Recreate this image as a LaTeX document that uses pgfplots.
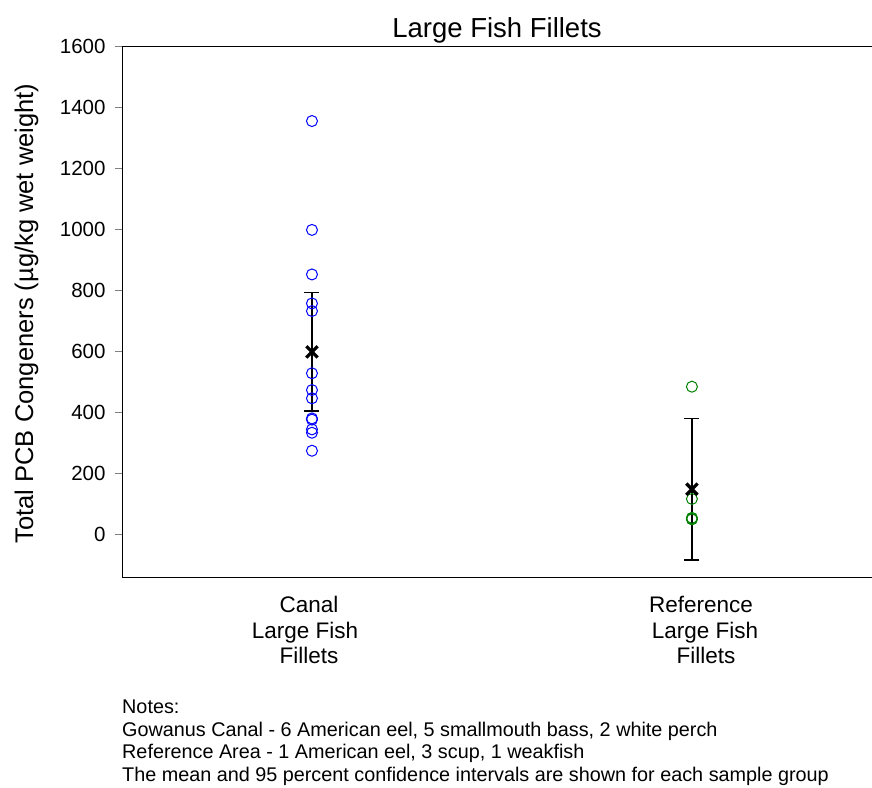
\documentclass[border=0pt]{standalone}
\usepackage{pgfplots}
\pgfplotsset{compat=1.18}
\usepackage{fontspec}
\setmainfont{Liberation Sans}
\definecolor{cblue}{RGB}{0,0,255}
\definecolor{cgreen}{RGB}{0,128,0}
\begin{document}
\begin{tikzpicture}[x=1pt,y=1pt]
\useasboundingbox (0,0) rectangle (872,-787);
\begin{axis}[
  at={(122pt,-577pt)}, anchor=south west,
  width=750pt, height=531pt, scale only axis,
  xmin=0.5, xmax=2.474, ymin=-141, ymax=1600,
  axis lines=left, axis line style={-, line width=1pt},
  ytick={0,200,...,1600},
  xtick=\empty,
  y tick style={line width=1pt},
  major tick length=7pt,
  tick align=outside,
  /pgf/number format/assume math mode=true,
  /pgf/number format/1000 sep={},
  yticklabel style={font=\fontsize{20.5}{24}\selectfont, xshift=-6pt},
  clip=false,
]
\draw[line width=1pt] (rel axis cs:0,1) -- (rel axis cs:1,1);
\addplot[only marks, mark=o, mark size=5.5pt, cblue, line width=1pt] coordinates {
(1,1354) (1,997) (1,851) (1,756) (1,731) (1,527) (1,472) (1,445) (1,379) (1,375) (1,343) (1,332) (1,273)
};
\addplot[only marks, mark=o, mark size=5.5pt, cgreen, line width=1pt] coordinates {
(2,483) (2,115) (2,53) (2,50) (2,48)
};
\addplot[black, only marks, mark=none,
  error bars/.cd, y dir=both, y explicit,
  error bar style={line width=1.5pt},
  error mark options={rotate=90, mark size=7.5pt, line width=1.5pt}]
  coordinates {(1,597) +- (0,194) (2,147) +- (0,232)};
\addplot[black, only marks, mark=x, mark size=8pt, mark options={line width=3.2pt}]
  coordinates {(1,597) (2,147)};
\end{axis}
\node[font=\fontsize{27.5}{30}\selectfont] at (497,-30) {Large Fish Fillets};
\node[font=\fontsize{25.5}{30}\selectfont, rotate=90, anchor=base, inner sep=0pt] at (33,-313.5) {Total PCB Congeners (µg/kg wet weight)};
\begin{scope}[every node/.style={font=\fontsize{22.5}{26}\selectfont, anchor=base, inner sep=0pt}]
\node at (309,-612) {Canal};
\node at (305,-638) {Large Fish};
\node at (309,-663) {Fillets};
\node at (701,-612) {Reference};
\node at (705,-638) {Large Fish};
\node at (706,-663) {Fillets};
\end{scope}
\begin{scope}[every node/.style={font=\fontsize{19.8}{22}\selectfont, anchor=base west, inner sep=0pt}]
\node at (122,-713) {Notes:};
\node at (122,-736) {Gowanus Canal - 6 American eel, 5 smallmouth bass, 2 white perch};
\node at (122,-758) {Reference Area - 1 American eel, 3 scup, 1 weakfish};
\node at (122,-781) {The mean and 95 percent confidence intervals are shown for each sample group};
\end{scope}
\end{tikzpicture}
\end{document}
